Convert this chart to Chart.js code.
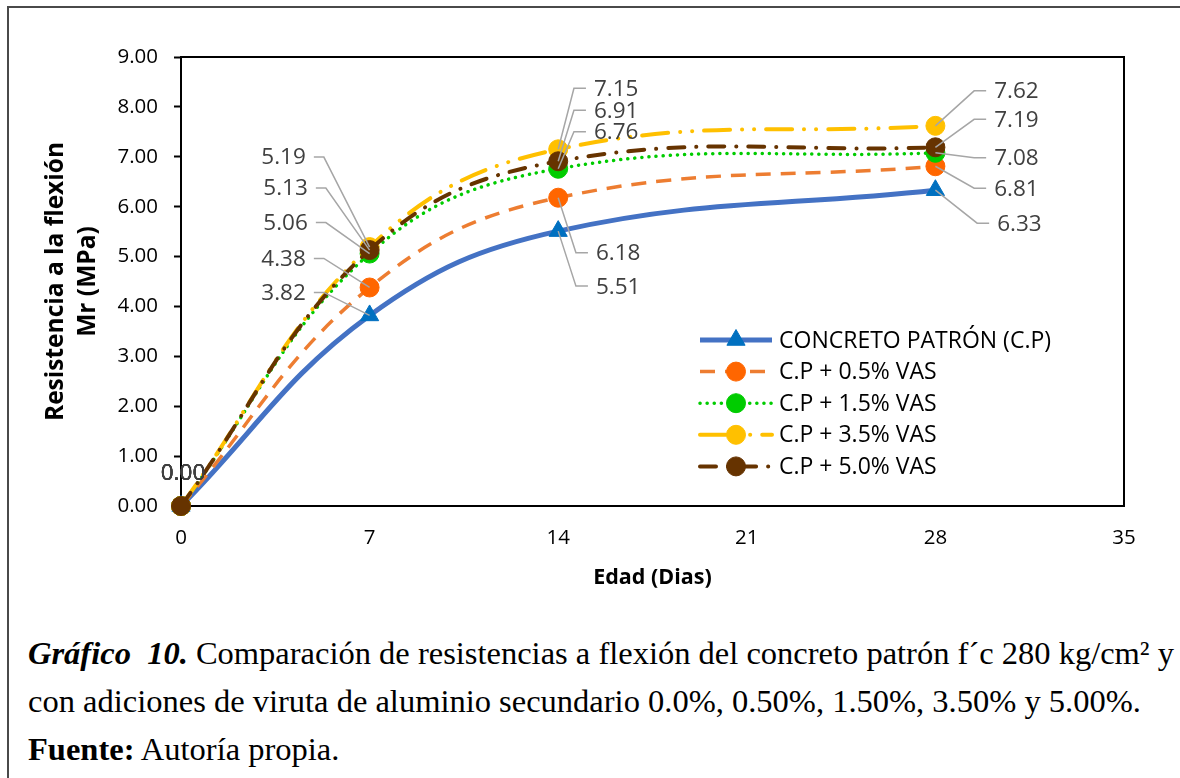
<!DOCTYPE html>
<html lang="es">
<head>
<meta charset="utf-8">
<title>Resistencia a la flexión</title>
<script src="https://cdn.jsdelivr.net/npm/chart.js@4.4.1/dist/chart.umd.min.js"></script>
<style>
  html, body { margin: 0; padding: 0; background: #fff; }
  body { width: 1180px; height: 778px; position: relative; overflow: hidden; }
  .frame { position: absolute; left: 7px; top: 6px; right: -10px; bottom: -10px;
           border-left: 2px solid #4a4a4a; border-top: 2px solid #4a4a4a; }
  #wrap { position: absolute; left: 0; top: 0; width: 1180px; height: 620px; }
  .caption { position: absolute; left: 28px; top: 629px; width: 1150px;
             font-family: "Liberation Serif", "Times New Roman", serif; font-size: 32.5px;
             line-height: 48px; color: #000; white-space: nowrap; }
</style>
</head>
<body>
<div class="frame"></div>
<div id="wrap"><canvas id="chart" width="1180" height="620"></canvas></div>
<div class="caption">
  <div><b><i>Gráfico&nbsp; 10.</i></b> Comparación de resistencias a flexión del concreto patrón f´c 280 kg/cm² y</div>
  <div>con adiciones de viruta de aluminio secundario 0.0%, 0.50%, 1.50%, 3.50% y 5.00%.</div>
  <div><b>Fuente:</b> Autoría propia.</div>
</div>
<script>
// Edad de ensayo (días)
const edades = [0, 7, 14, 28];

// Resistencia a la flexión Mr (MPa) por mezcla
const patron   = [0, 3.82, 5.51, 6.33];
const vas05    = [0, 4.38, 6.18, 6.81];
const vas15    = [0, 5.06, 6.76, 7.08];
const vas35    = [0, 5.19, 7.15, 7.62];
const vas50    = [0, 5.13, 6.91, 7.19];

const nombres = ['CONCRETO PATRÓN (C.P)', 'C.P + 0.5% VAS', 'C.P + 1.5% VAS', 'C.P + 3.5% VAS', 'C.P + 5.0% VAS'];

// Ejes
const yTicks = [0, 1, 2, 3, 4, 5, 6, 7, 8, 9];
const xTicks = [0, 7, 14, 21, 28, 35];

// Desplazamiento de cada etiqueta de valor respecto a su punto (px)
const labelPlacement = [
  [[2, -33], [-86, -23], [60, 55], [84, 33]],
  [[2, -33], [-86, -29], [60, 55], [81, 22]],
  [[2, -33], [-84, -31], [58, -37], [81, 5]],
  [[2, -33], [-86, -90], [58, -61], [81, -35]],
  [[2, -33], [-84, -62], [58, -51], [81, -28]]
];

const FONT = "'Open Sans', 'Liberation Sans', sans-serif";

function serie(values, i, cfg) {
  return Object.assign({
    label: nombres[i],
    data: edades.map((x, k) => ({ x: x, y: values[k] })),
    tension: 0.4,
    clip: false,
    pointStyle: 'circle',
    pointRadius: 9.5,
    pointHoverRadius: 9.5,
    pointBorderWidth: 1,
    borderCapStyle: 'round',
    order: 5 - i
  }, cfg);
}

const datasets = [
  serie(patron, 0, { borderColor: '#4472C4', borderWidth: 5, borderCapStyle: 'butt',
    pointStyle: 'triangle', pointRadius: 10.5, pointHoverRadius: 10.5,
    pointBackgroundColor: '#0070C0', pointBorderColor: '#0070C0' }),
  serie(vas05, 1, { borderColor: '#ED7D31', borderWidth: 3.5, borderDash: [15, 10], borderCapStyle: 'butt',
    pointBackgroundColor: '#FF6600', pointBorderColor: '#FF6600' }),
  serie(vas15, 2, { borderColor: '#00CC00', borderWidth: 3.5, borderDash: [0.1, 7],
    pointBackgroundColor: '#00CC00', pointBorderColor: '#00CC00' }),
  serie(vas35, 3, { borderColor: '#FFC000', borderWidth: 4, borderDash: [26, 12, 0.1, 12, 0.1, 12],
    pointBackgroundColor: '#FFC000', pointBorderColor: '#FFC000' }),
  serie(vas50, 4, { borderColor: '#663300', borderWidth: 4, borderDash: [16, 12, 0.1, 12],
    pointBackgroundColor: '#663300', pointBorderColor: '#663300' })
];

// Marco del área de trazado
const plotFrame = {
  id: 'plotFrame',
  beforeDatasetsDraw(chart) {
    const { ctx, chartArea: a } = chart;
    ctx.save();
    ctx.strokeStyle = '#000';
    ctx.lineWidth = 2;
    ctx.strokeRect(a.left, a.top, a.right - a.left, a.bottom - a.top);
    ctx.restore();
  }
};

// Etiquetas de valor con líneas guía
const valueLabels = {
  id: 'valueLabels',
  afterDatasetsDraw(chart) {
    const ctx = chart.ctx;
    ctx.save();
    ctx.font = '22.5px ' + FONT;
    ctx.textAlign = 'center';
    ctx.textBaseline = 'middle';
    chart.data.datasets.forEach((ds, i) => {
      const meta = chart.getDatasetMeta(i);
      meta.data.forEach((pt, k) => {
        const [dx, dy] = labelPlacement[i][k];
        const text = ds.data[k].y.toFixed(2);
        const cx = pt.x + dx, cy = pt.y + dy;
        const w = ctx.measureText(text).width;
        if (Math.abs(dx) > 20) {
          let x0, x1;
          if (dx > 0) { x0 = cx - w / 2 - 8; x1 = x0 - 12; }
          else { x0 = cx + w / 2 + 8; x1 = x0 + 10; }
          ctx.strokeStyle = '#A6A6A6';
          ctx.lineWidth = 1.5;
          ctx.beginPath();
          ctx.moveTo(x0, cy);
          ctx.lineTo(x1, cy);
          ctx.lineTo(pt.x, pt.y);
          ctx.stroke();
        }
        ctx.fillStyle = '#404040';
        ctx.fillText(text, cx, cy + 1);
      });
    });
    ctx.restore();
  }
};

// Leyenda dentro del área de trazado
const insideLegend = {
  id: 'insideLegend',
  afterDraw(chart) {
    const ctx = chart.ctx;
    const x0 = 700, x1 = 772, tx = 779, y0 = 340, step = 31.6;
    ctx.save();
    chart.data.datasets.forEach((ds, i) => {
      const y = y0 + i * step;
      ctx.save();
      ctx.strokeStyle = ds.borderColor;
      ctx.lineWidth = ds.borderWidth;
      ctx.lineCap = ds.borderCapStyle;
      ctx.setLineDash(ds.borderDash || []);
      ctx.beginPath();
      ctx.moveTo(x0, y);
      ctx.lineTo(x1, y);
      ctx.stroke();
      ctx.restore();
      ctx.fillStyle = ds.pointBackgroundColor;
      ctx.strokeStyle = ds.pointBorderColor;
      ctx.lineWidth = 1;
      Chart.helpers.drawPoint(ctx, { pointStyle: ds.pointStyle, radius: ds.pointRadius, rotation: 0, borderWidth: 1 },
        (x0 + x1) / 2, y);
      ctx.fillStyle = '#000';
      ctx.font = '23px ' + FONT;
      ctx.textAlign = 'left';
      ctx.textBaseline = 'middle';
      ctx.fillText(ds.label, tx, y + 1);
    });
    ctx.restore();
  }
};

new Chart(document.getElementById('chart'), {
  type: 'line',
  data: { datasets: datasets },
  options: {
    responsive: false,
    animation: false,
    events: [],
    layout: { padding: { left: 20, top: 57, right: 56, bottom: 24 } },
    plugins: { legend: { display: false }, tooltip: { enabled: false } },
    scales: {
      x: {
        type: 'linear',
        min: xTicks[0],
        max: xTicks[xTicks.length - 1],
        afterBuildTicks(scale) { scale.ticks = xTicks.map(v => ({ value: v })); },
        afterFit(scale) { scale.height = 90; },
        grid: { drawOnChartArea: false, drawTicks: false },
        border: { display: true, color: '#000', width: 2 },
        ticks: { color: '#000', padding: 20, font: { family: FONT, size: 20.5 } },
        title: { display: true, text: 'Edad (Dias)', color: '#000', padding: { top: 0, bottom: 4 },
                 font: { family: FONT, size: 21.5, weight: 'bold', lineHeight: 1.3 } }
      },
      y: {
        min: yTicks[0],
        max: yTicks[yTicks.length - 1],
        afterBuildTicks(scale) { scale.ticks = yTicks.map(v => ({ value: v })); },
        afterFit(scale) { scale.width = 161; },
        grid: { drawOnChartArea: false, drawTicks: true, tickLength: 7, tickWidth: 2, tickColor: '#000' },
        border: { display: true, color: '#000', width: 2 },
        ticks: { color: '#000', padding: 16, font: { family: FONT, size: 20.5 },
                 callback: v => Number(v).toFixed(2) },
        title: { display: true, text: ['Resistencia a la flexión', 'Mr (MPa)'], color: '#000',
                 padding: { top: 20, bottom: 0 },
                 font: { family: FONT, size: 24.5, weight: 'bold', lineHeight: 1.3 } }
      }
    }
  },
  plugins: [plotFrame, valueLabels, insideLegend]
});
</script>
</body>
</html>
